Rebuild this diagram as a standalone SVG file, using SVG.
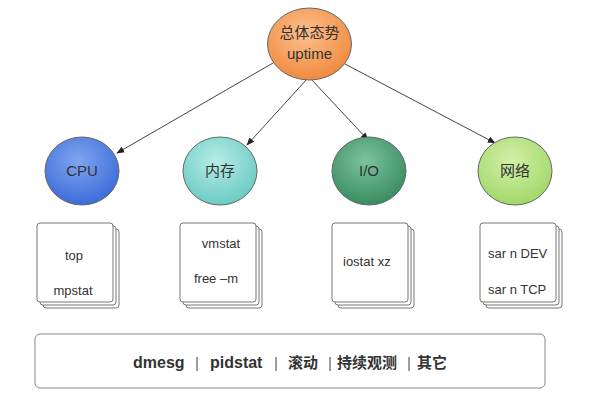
<svg xmlns="http://www.w3.org/2000/svg" width="600" height="400" viewBox="0 0 600 400">
<defs>
<radialGradient id="gOrange" cx="45%" cy="35%" r="65%"><stop offset="0" stop-color="#fcc08e"/><stop offset="1" stop-color="#f18a40"/></radialGradient>
<radialGradient id="gBlue" cx="45%" cy="35%" r="65%"><stop offset="0" stop-color="#7fa6f0"/><stop offset="1" stop-color="#3d6cd8"/></radialGradient>
<radialGradient id="gTeal" cx="45%" cy="35%" r="65%"><stop offset="0" stop-color="#b6ece6"/><stop offset="1" stop-color="#6ccbc4"/></radialGradient>
<radialGradient id="gGreen" cx="45%" cy="35%" r="65%"><stop offset="0" stop-color="#7cc39d"/><stop offset="1" stop-color="#3a8c62"/></radialGradient>
<radialGradient id="gLime" cx="45%" cy="35%" r="65%"><stop offset="0" stop-color="#d3f0a8"/><stop offset="1" stop-color="#a2d86a"/></radialGradient>
<marker id="arr" viewBox="0 0 10 10" refX="9" refY="5" markerWidth="8" markerHeight="8" orient="auto" markerUnits="userSpaceOnUse"><path d="M0,1 L10,5 L0,9 Z" fill="#222"/></marker>
<g id="stack">
<rect x="6" y="6" width="76" height="79" rx="3" fill="#fff" stroke="#777" stroke-width="1"/>
<rect x="3" y="3" width="76" height="79" rx="3" fill="#fff" stroke="#777" stroke-width="1"/>
<rect x="0" y="0" width="76" height="79" rx="3" fill="#fff" stroke="#777" stroke-width="1"/>
</g>
</defs>
<style>
.ell{stroke:#666;stroke-width:1}
.t{font-family:"Liberation Sans","Noto Sans CJK SC",sans-serif;font-size:13px;fill:#333}
.lbl{font-family:"Liberation Sans","Noto Sans CJK SC",sans-serif;font-size:15px;fill:#333;text-anchor:middle}
.bt{font-family:"Liberation Sans","Noto Sans CJK SC",sans-serif;font-size:16px;font-weight:bold;fill:#333}
.bt .cj{font-size:15px}
.bt .sep{font-weight:normal;fill:#666;font-size:15px}
.conn line{stroke:#444;stroke-width:1;marker-end:url(#arr)}
</style>
<rect width="600" height="400" fill="#fff"/>
<g class="conn" id="connectors">
<line x1="273" y1="63" x2="117" y2="153"/>
<line x1="307" y1="79" x2="247" y2="145"/>
<line x1="311" y1="79" x2="368" y2="140"/>
<line x1="345" y1="64" x2="495" y2="143"/>
</g>
<g id="uptime">
<ellipse cx="309.5" cy="44" rx="42" ry="36" fill="url(#gOrange)" class="ell"/>
<text x="309.5" y="38" class="lbl">总体态势</text>
<text x="309.5" y="59" class="lbl">uptime</text>
</g>
<g id="cpu">
<ellipse cx="82" cy="171" rx="37" ry="34" fill="url(#gBlue)" class="ell"/>
<text x="82" y="176" class="lbl">CPU</text>
</g>
<g id="mem">
<ellipse cx="220" cy="171" rx="37" ry="34" fill="url(#gTeal)" class="ell"/>
<text x="220" y="176" class="lbl">内存</text>
</g>
<g id="io">
<ellipse cx="369" cy="171" rx="37" ry="34" fill="url(#gGreen)" class="ell"/>
<text x="369" y="176" class="lbl">I/O</text>
</g>
<g id="net">
<ellipse cx="515" cy="171" rx="37" ry="34" fill="url(#gLime)" class="ell"/>
<text x="515" y="176" class="lbl">网络</text>
</g>
<g id="cpu-tools">
<use href="#stack" x="37" y="223"/>
<text x="74" y="260" class="t" text-anchor="middle">top</text>
<text x="73" y="295" class="t" text-anchor="middle">mpstat</text>
</g>
<g id="mem-tools">
<use href="#stack" x="180" y="223"/>
<text x="221" y="248" class="t" text-anchor="middle">vmstat</text>
<text x="216" y="283" class="t" text-anchor="middle">free –m</text>
</g>
<g id="io-tools">
<use href="#stack" x="332" y="223"/>
<text x="343" y="266" class="t">iostat xz</text>
</g>
<g id="net-tools">
<use href="#stack" x="480" y="223"/>
<text x="488" y="258" class="t">sar n DEV</text>
<text x="488" y="294" class="t">sar n TCP</text>
</g>
<g id="others">
<rect x="35" y="334" width="510" height="54" rx="5" fill="#fff" stroke="#888" stroke-width="1"/>
<text y="368" class="bt"><tspan x="133">dmesg</tspan><tspan x="195" class="sep">|</tspan><tspan x="210">pidstat</tspan><tspan x="274" class="sep">|</tspan><tspan x="288" class="cj">滚动</tspan><tspan x="328" class="sep">|</tspan><tspan x="337" class="cj">持续观测</tspan><tspan x="407" class="sep">|</tspan><tspan x="417" class="cj">其它</tspan></text>
</g>
</svg>
